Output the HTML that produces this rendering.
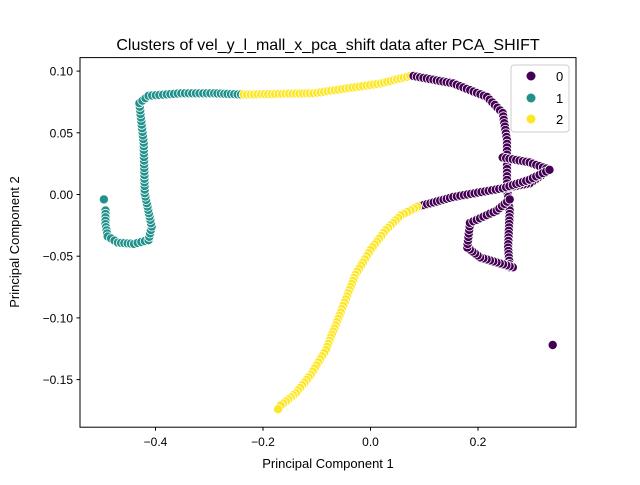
<!DOCTYPE html>
<html><head><meta charset="utf-8"><style>
body{margin:0;background:#fff}
svg{font-family:"Liberation Sans","DejaVu Sans",sans-serif}
</style></head><body>
<svg id="chart" width="640" height="480" xmlns="http://www.w3.org/2000/svg">
<rect width="640" height="480" fill="#fff"/>
<text x="328" y="50" font-size="16" text-anchor="middle">Clusters of vel_y_l_mall_x_pca_shift data after PCA_SHIFT</text>
<g id="marks"></g>
<rect x="80" y="57.6" width="496" height="369.6" fill="none" stroke="#000" stroke-width="1"/>
<g id="axes"></g>
<text x="328" y="468" font-size="13" text-anchor="middle">Principal Component 1</text>
<text x="19" y="242" font-size="13" text-anchor="middle" transform="rotate(-90 19 242)">Principal Component 2</text>
<g>
<rect x="511" y="65" width="58" height="67" rx="3" fill="#fff" fill-opacity="0.8" stroke="#ccc"/>
<g><circle cx="531" cy="76" r="4.5" fill="#440154"/><text x="556" y="81" font-size="13">0</text></g>
<g><circle cx="531" cy="98" r="4.5" fill="#21918c"/><text x="556" y="103" font-size="13">1</text></g>
<g><circle cx="531" cy="119" r="4.5" fill="#fde725"/><text x="556" y="124" font-size="13">2</text></g>
</g>
</svg>
<script>
const xTicks=[-0.4,-0.2,0.0,0.2];
const xTickLabels=["−0.4","−0.2","0.0","0.2"];
const yTicks=[0.10,0.05,0.00,-0.05,-0.10,-0.15];
const yTickLabels=["0.10","0.05","0.00","−0.05","−0.10","−0.15"];
const clusterColors=["#440154","#21918c","#fde725"];
// path segments: [cluster, points...] in data units
const outlierTeal=[[-0.496,-0.004]];
const seg1Teal=[[-0.493,-0.013],[-0.493,-0.024],[-0.489,-0.034],[-0.470,-0.039],[-0.440,-0.040],[-0.413,-0.037],[-0.407,-0.026],[-0.420,0.001],[-0.422,0.042],[-0.430,0.074],[-0.413,0.080],[-0.352,0.082],[-0.291,0.082],[-0.241,0.081]];
const seg2YellowTop=[[-0.236,0.081],[-0.106,0.082],[0.019,0.090],[0.074,0.096]];
const seg3PurpleMain=[[0.080,0.096],[0.154,0.090],[0.217,0.079],[0.246,0.066],[0.254,0.044],[0.254,0.006],[0.259,-0.013],[0.256,-0.043],[0.259,-0.059]];
const seg4PurpleLoop=[[0.265,-0.059],[0.204,-0.051],[0.180,-0.043],[0.185,-0.023],[0.235,-0.013],[0.259,-0.004]];
const seg5PurpleUpper=[[0.246,0.030],[0.296,0.026],[0.333,0.020],[0.296,0.009],[0.259,0.006]];
const seg6PurpleDiag=[[0.087,-0.010],[0.154,-0.002],[0.246,0.005],[0.296,0.012],[0.333,0.020]];
const seg7YellowLow=[[0.087,-0.010],[0.056,-0.017],[0.028,-0.029],[0.0,-0.045],[-0.028,-0.065],[-0.046,-0.085],[-0.065,-0.106],[-0.083,-0.126],[-0.111,-0.146],[-0.139,-0.161],[-0.167,-0.171],[-0.172,-0.174]];
const outlierPurple=[[0.339,-0.122]];
const segments=[[1,outlierTeal],[1,seg1Teal],[2,seg2YellowTop],[0,seg3PurpleMain],[0,seg4PurpleLoop],[0,seg5PurpleUpper],[0,seg6PurpleDiag],[2,seg7YellowLow],[0,outlierPurple]];

const NS="http://www.w3.org/2000/svg";
const xs=v=>370.5+v*537.5;
const ys=v=>194.5-v*1234;
const marks=document.getElementById('marks');
const axes=document.getElementById('axes');
function dot(x,y,c){
  const e=document.createElementNS(NS,'circle');
  e.setAttribute('cx',x.toFixed(1));e.setAttribute('cy',y.toFixed(1));
  e.setAttribute('r','4.6');e.setAttribute('fill',c);
  e.setAttribute('stroke','#fff');e.setAttribute('stroke-width','0.8');
  
  
  marks.appendChild(e);
}
segments.forEach(([cl,pts])=>{
  const c=clusterColors[cl];
  if(pts.length===1){dot(xs(pts[0][0]),ys(pts[0][1]),c);return;}
  for(let i=0;i<pts.length-1;i++){
    const x0=xs(pts[i][0]),y0=ys(pts[i][1]),x1=xs(pts[i+1][0]),y1=ys(pts[i+1][1]);
    const L=Math.hypot(x1-x0,y1-y0);const n=Math.max(1,Math.round(L/3.5));
    for(let k=0;k<n;k++){const t=k/n;dot(x0+(x1-x0)*t,y0+(y1-y0)*t,c);}
  }
  const p=pts[pts.length-1];dot(xs(p[0]),ys(p[1]),c);
});
xTicks.forEach((v,i)=>{
  const x=xs(v);
  const l=document.createElementNS(NS,'line');
  l.setAttribute('x1',x);l.setAttribute('x2',x);l.setAttribute('y1',427.2);l.setAttribute('y2',430.7);l.setAttribute('stroke','#000');
  
  
  axes.appendChild(l);
  const t=document.createElementNS(NS,'text');
  t.setAttribute('x',x);t.setAttribute('y',446);t.setAttribute('font-size','12');t.setAttribute('text-anchor','middle');
  t.textContent=xTickLabels[i];
  
  
  axes.appendChild(t);
});
yTicks.forEach((v,i)=>{
  const y=ys(v);
  const l=document.createElementNS(NS,'line');
  l.setAttribute('x1',76.5);l.setAttribute('x2',80);l.setAttribute('y1',y);l.setAttribute('y2',y);l.setAttribute('stroke','#000');
  
  
  axes.appendChild(l);
  const t=document.createElementNS(NS,'text');
  t.setAttribute('x',73);t.setAttribute('y',y+4.5);t.setAttribute('font-size','12');t.setAttribute('text-anchor','end');
  t.textContent=yTickLabels[i];
  
  
  axes.appendChild(t);
});
</script>
</body></html>
